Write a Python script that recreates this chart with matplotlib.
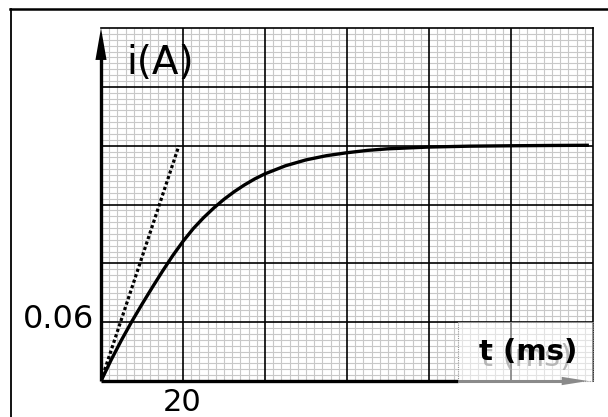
import matplotlib.pyplot as plt
from matplotlib.patches import Rectangle
from matplotlib.ticker import FixedLocator

# current i(t) (t in ms, i in A)
t_ms = [0, 2.5, 5, 7.5, 10, 12.5, 15, 17.5, 20, 22.5, 25, 27.5, 30, 32.5,
        35, 37.5, 40, 45, 50, 55, 60, 65, 70, 80, 90, 100, 110, 119]
i_A = [0, 0.0217, 0.0418, 0.0606, 0.0783, 0.0954, 0.1120, 0.1279, 0.1424,
       0.1554, 0.1665, 0.1764, 0.1853, 0.1931, 0.2000, 0.2061, 0.2113,
       0.2195, 0.2255, 0.2298, 0.2328, 0.2352, 0.2368, 0.2386, 0.2395,
       0.2399, 0.2402, 0.2404]

# tangent at the origin
tan_t = [0, 19]
tan_i = [0, 0.24]

x_major, y_major = 20, 0.06
n_div = 6

fig = plt.figure(figsize=(6.08, 4.17), dpi=100)
ax = fig.add_axes([101/608, 1-381/417, 492/608, 353/417])
ax.set_xlim(0, x_major * n_div)
ax.set_ylim(0, y_major * n_div)

# millimetre paper: light minor grid, black major lines drawn on top
x_minor = [k * x_major / 10 for k in range(n_div * 10 + 1) if k % 10]
y_minor = [k * y_major / 10 for k in range(n_div * 10 + 1) if k % 10]
ax.xaxis.set_minor_locator(FixedLocator(x_minor))
ax.yaxis.set_minor_locator(FixedLocator(y_minor))
ax.set_xticks([])
ax.set_yticks([])
ax.grid(which='minor', color='#c8c8c8', lw=0.8)
ax.tick_params(which='both', length=0)
x_maj = [k * x_major for k in range(1, n_div)]
y_maj = [k * y_major for k in range(1, n_div)]
ax.vlines(x_maj, 0, y_major * n_div, color='black', lw=1.2, zorder=2)
ax.hlines(y_maj, 0, x_major * n_div, color='black', lw=1.2, zorder=2)
for s in ['top', 'right']:
    ax.spines[s].set_linewidth(1.2)
for s in ['left', 'bottom']:
    ax.spines[s].set_visible(False)

ax.plot(t_ms, i_A, color='black', lw=2.4, zorder=5, solid_capstyle='butt')
ax.plot(tan_t, tan_i, color='black', lw=2.3, ls=(0, (1, 0.8)), zorder=5)

# washed-out pasted patch in the lower right corner
ax.add_patch(Rectangle((87.1, 0), 120-87.1, 0.06, facecolor='white', alpha=0.5,
                       edgecolor='none', zorder=3, clip_on=False))
ax.add_patch(Rectangle((87.1, 0), 120-87.1, 0.06, facecolor='none',
                       edgecolor='#909090', lw=0.8, ls=(0, (1, 1)), zorder=3.5,
                       clip_on=False))

# axes
ax.plot([0, 0], [0, 0.33], color='black', lw=2.4, zorder=6, clip_on=False,
        solid_capstyle='butt')
ax.annotate('', xy=(0, 0.36), xytext=(0, 0.31),
            arrowprops=dict(arrowstyle='-|>,head_length=2.3,head_width=0.4',
                            color='black', lw=0, shrinkA=0, shrinkB=0),
            zorder=6, annotation_clip=False)
ax.plot([0, 87.1], [0, 0], color='black', lw=2.4, zorder=6, clip_on=False,
        solid_capstyle='butt')
ax.plot([87.1, 113], [0, 0], color='#8a8a8a', lw=2.2, zorder=6, clip_on=False,
        solid_capstyle='butt')
ax.annotate('', xy=(118.8, 0), xytext=(110, 0),
            arrowprops=dict(arrowstyle='-|>,head_length=1.9,head_width=0.3',
                            color='#8a8a8a', lw=0, shrinkA=0, shrinkB=0),
            zorder=6, annotation_clip=False)

# labels
ax.text(6.1, 0.313, 'i(A)', fontsize=28, va='baseline', ha='left', zorder=7)
ax.text(-1.7, 0.0625, '0.06', fontsize=23, va='center', ha='right', zorder=7)
ax.text(19.7, -0.007, '20', fontsize=22, va='top', ha='center', zorder=7)
ax.text(92.8, 0.015, 't (ms)', fontsize=22, va='baseline', ha='left',
        color='#a8a8a8', alpha=0.8, zorder=6.5)
ax.text(92.2, 0.0214, 't (ms)', fontsize=21, fontweight='bold',
        va='baseline', ha='left', zorder=7)

# outer frame
fig.add_artist(plt.Line2D([10/608, 1], [1-9/417, 1-9/417], color='black', lw=1.8))
fig.add_artist(plt.Line2D([11/608, 11/608], [0, 1-9/417], color='black', lw=1.3))

fig.savefig('out.png', dpi=100)
